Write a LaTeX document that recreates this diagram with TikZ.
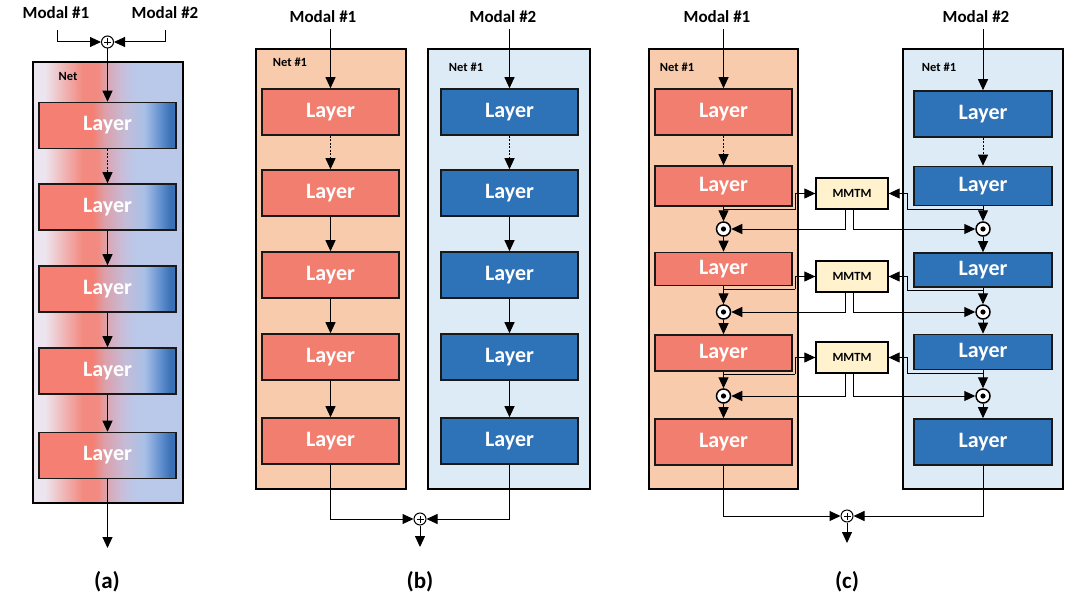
\documentclass[tikz,border=0pt]{standalone}
\usepackage{fontspec}
\setmainfont{Carlito}
\usetikzlibrary{arrows.meta,calc}
\definecolor{layred}{HTML}{F27E70}
\definecolor{layblue}{HTML}{2E72B8}
\definecolor{netpeach}{HTML}{F8CBAD}
\definecolor{netsky}{HTML}{DDEBF7}
\definecolor{mmtmfill}{HTML}{FFF2CC}
\definecolor{gA}{HTML}{ECE4EE}
\definecolor{gB}{HTML}{F0B4B4}
\definecolor{gC}{HTML}{F38A80}
\definecolor{gD}{HTML}{D9A8B6}
\definecolor{gE}{HTML}{C9BDD9}
\definecolor{gF}{HTML}{BAC8EA}
\definecolor{lA}{HTML}{F47F72}
\definecolor{lB}{HTML}{DCA0AA}
\definecolor{lC}{HTML}{C4BCD8}
\definecolor{lD}{HTML}{A8C0E6}
\definecolor{lE}{HTML}{5A8ACB}
\definecolor{lF}{HTML}{3A70B5}
\pgfdeclarehorizontalshading{netgrad}{100bp}{color(0bp)=(gA); color(25bp)=(gA); color(29bp)=(gA); color(35.5bp)=(gB); color(41.5bp)=(gC); color(46.5bp)=(gC); color(50bp)=(gD); color(54.5bp)=(gE); color(59bp)=(gF); color(75bp)=(gF); color(100bp)=(gF)}
\pgfdeclarehorizontalshading{laygrad}{100bp}{color(0bp)=(lA); color(25bp)=(lA); color(44.5bp)=(lA); color(49bp)=(lB); color(56.5bp)=(lC); color(63.5bp)=(lD); color(70bp)=(lE); color(73bp)=(lF); color(75bp)=(lF); color(100bp)=(lF)}
\begin{document}
\begin{tikzpicture}[x=1pt,y=-1pt,
  arr/.style={-{Triangle[length=11pt,width=10pt]}, line width=1pt, black},
  dotarr/.style={arr, dash pattern=on 2pt off 1.5pt},
  netbox/.style={draw=black, line width=1.6pt},
  lay/.style={draw=black!90, line width=1.6pt, minimum width=137pt, minimum height=46pt, inner sep=0pt, text=white, font=\bfseries\fontsize{22}{22}\selectfont},
  layR/.style={lay, fill=layred},
  layB/.style={lay, fill=layblue},
  layG/.style={lay, shade, shading=laygrad},
  modal/.style={font=\bfseries\fontsize{17}{17}\selectfont, inner sep=2pt},
  netlbl/.style={font=\bfseries\fontsize{12.5}{12.5}\selectfont, inner sep=0pt},
  captxt/.style={font=\bfseries\fontsize{23}{23}\selectfont},
  plusc/.style={circle, draw, line width=1pt, fill=white, minimum size=12pt, inner sep=0pt,
    path picture={\draw[line width=0.8pt]
      ([yshift=-3.5pt]path picture bounding box.center) -- ([yshift=3.5pt]path picture bounding box.center)
      ([xshift=-3.5pt]path picture bounding box.center) -- ([xshift=3.5pt]path picture bounding box.center);}},
  odot/.style={circle, draw, line width=1.5pt, fill=white, minimum size=14pt, inner sep=0pt,
    path picture={\fill[black] (path picture bounding box.center) circle (2.6pt);}},
  mmtm/.style={draw, line width=1.3pt, fill=mmtmfill, minimum width=72pt, minimum height=31pt, inner sep=0pt, font=\bfseries\fontsize{12.5}{12.5}\selectfont},
]
\useasboundingbox[fill=white] (0,0) rectangle (1086,599);

% ================= (a) =================
\draw[netbox, shade, shading=netgrad] (33,62) rectangle (183,503);
\node[modal] (am1) at (56,13) {Modal \#1};
\node[modal] (am2) at (165,13) {Modal \#2};
\node[netlbl] (anet) at (68,76) {Net};
\node[layG] (aL1) at (107.5,125.5) {Layer};
\node[layG] (aL2) at (107.5,207) {Layer};
\node[layG] (aL3) at (107.5,289) {Layer};
\node[layG] (aL4) at (107.5,371) {Layer};
\node[layG] (aL5) at (107.5,455.5) {Layer};
\node[plusc] (aP) at (107.5,42) {};
\coordinate (a1s) at (57,30);
\coordinate (a2s) at (165,30);
\coordinate (aOut) at (107.5,548);
\draw[arr] (a1s) |- (aP.west);
\draw[arr] (a2s) |- (aP.east);
\draw[arr] (aP.south) -- (aL1.north);
\draw[dotarr] (aL1.south) -- (aL2.north);
\draw[arr] (aL2.south) -- (aL3.north);
\draw[arr] (aL3.south) -- (aL4.north);
\draw[arr] (aL4.south) -- (aL5.north);
\draw[arr] (aL5.south) -- (aOut);
\node[captxt] (capa) at (107,582) {(a)};

% ================= (b) =================
\draw[netbox, fill=netpeach] (256,49) rectangle (406,489);
\draw[netbox, fill=netsky] (428,49) rectangle (590,489);
\node[modal] (bm1) at (323,17) {Modal \#1};
\node[modal] (bm2) at (503,17) {Modal \#2};
\node[netlbl] (bnet1) at (290,62) {Net \#1};
\node[netlbl] (bnet2) at (466,67) {Net \#1};
\foreach \i/\y in {1/112,2/193,3/275,4/357,5/441}{
  \node[layR] (bL\i) at (330.5,\y) {Layer};
  \node[layB] (bR\i) at (509.5,\y) {Layer};
}
\draw[arr, shorten <=4pt] (bm1.south -| bL1.north) -- (bL1.north);
\draw[arr, shorten <=4pt] (bm2.south -| bR1.north) -- (bR1.north);
\draw[dotarr] (bL1.south) -- (bL2.north);
\draw[dotarr] (bR1.south) -- (bR2.north);
\foreach \i/\j in {2/3,3/4,4/5}{
  \draw[arr] (bL\i.south) -- (bL\j.north);
  \draw[arr] (bR\i.south) -- (bR\j.north);
}
\node[plusc] (bP) at (420,519) {};
\coordinate (bOut) at (420,547);
\draw[arr] (bL5.south) |- (bP.west);
\draw[arr] (bR5.south) |- (bP.east);
\draw[arr] (bP.south) -- (bOut);
\node[captxt] (capb) at (420,582) {(b)};

% ================= (c) =================
\draw[netbox, fill=netpeach] (649,49) rectangle (798,489);
\draw[netbox, fill=netsky] (903,49) rectangle (1063,489);
\node[modal] (cm1) at (717,17) {Modal \#1};
\node[modal] (cm2) at (976,17) {Modal \#2};
\node[netlbl] (cnet1) at (677,67) {Net \#1};
\node[netlbl] (cnet2) at (939,67) {Net \#1};
\node[layR] (cL1) at (723.5,112) {Layer};
\node[layR, minimum height=40pt] (cL2) at (723.5,186) {Layer};
\node[layR, minimum height=33pt] (cL3) at (723.5,269) {Layer};
\node[layR, minimum height=36pt] (cL4) at (723.5,353) {Layer};
\node[layR] (cL5) at (723.5,442) {Layer};
\node[layB, minimum width=138pt] (cR1) at (983,114) {Layer};
\node[layB, minimum width=138pt, minimum height=39pt] (cR2) at (983,186) {Layer};
\node[layB, minimum width=138pt, minimum height=34pt] (cR3) at (983,270) {Layer};
\node[layB, minimum width=138pt, minimum height=35pt] (cR4) at (983,352) {Layer};
\node[layB, minimum width=138pt] (cR5) at (983,442) {Layer};
\foreach \i/\y in {1/229,2/312,3/396}{
  \node[odot] (cOL\i) at (723.5,\y) {};
  \node[odot] (cOR\i) at (983,\y) {};
}
\node[mmtm] (cM1) at (852,193.5) {MMTM};
\node[mmtm] (cM2) at (852,276.5) {MMTM};
\node[mmtm] (cM3) at (852,357.5) {MMTM};
\draw[arr, shorten <=4pt] (cm1.south -| cL1.north) -- (cL1.north);
\draw[arr, shorten <=4pt] (cm2.south -| cR1.north) -- (cR1.north);
\draw[dotarr] (cL1.south) -- (cL2.north);
\draw[dotarr] (cR1.south) -- (cR2.north);
\draw[arr] (cL2.south) -- (cOL1.north);
\draw[arr] (cOL1.south) -- (cL3.north);
\draw[arr] (cL3.south) -- (cOL2.north);
\draw[arr] (cOL2.south) -- (cL4.north);
\draw[arr] (cL4.south) -- (cOL3.north);
\draw[arr] (cOL3.south) -- (cL5.north);
\draw[arr] (cR2.south) -- (cOR1.north);
\draw[arr] (cOR1.south) -- (cR3.north);
\draw[arr] (cR3.south) -- (cOR2.north);
\draw[arr] (cOR2.south) -- (cR4.north);
\draw[arr] (cR4.south) -- (cOR3.north);
\draw[arr] (cOR3.south) -- (cR5.north);
% branches to MMTM
\coordinate (cLx) at (795,0);
\coordinate (cRx) at (907,0);
\coordinate (cbL1) at (723.5,209.5);
\coordinate (cbL2) at (723.5,289);
\coordinate (cbL3) at (723.5,374);
\coordinate (cbR1) at (983,209.5);
\coordinate (cbR2) at (983,290.5);
\coordinate (cbR3) at (983,373);
\foreach \i in {1,2,3}{
  \draw[line width=1pt] (cbL\i) -- (cbL\i -| cLx);
  \draw[arr] (cbL\i -| cLx) |- (cM\i.west);
  \draw[line width=1pt] (cbR\i) -- (cbR\i -| cRx);
  \draw[arr] (cbR\i -| cRx) |- (cM\i.east);
  \draw[arr] ($(cM\i.south)+(-7,0)$) |- (cOL\i.east);
  \draw[arr] ($(cM\i.south)+(1,0)$) |- (cOR\i.west);
}
\node[plusc] (cP) at (847,516) {};
\coordinate (cOut) at (847,543);
\draw[arr] (cL5.south) |- (cP.west);
\draw[arr] (cR5.south) |- (cP.east);
\draw[arr] (cP.south) -- (cOut);
\node[captxt] (capc) at (847,582) {(c)};
\end{tikzpicture}
\end{document}
